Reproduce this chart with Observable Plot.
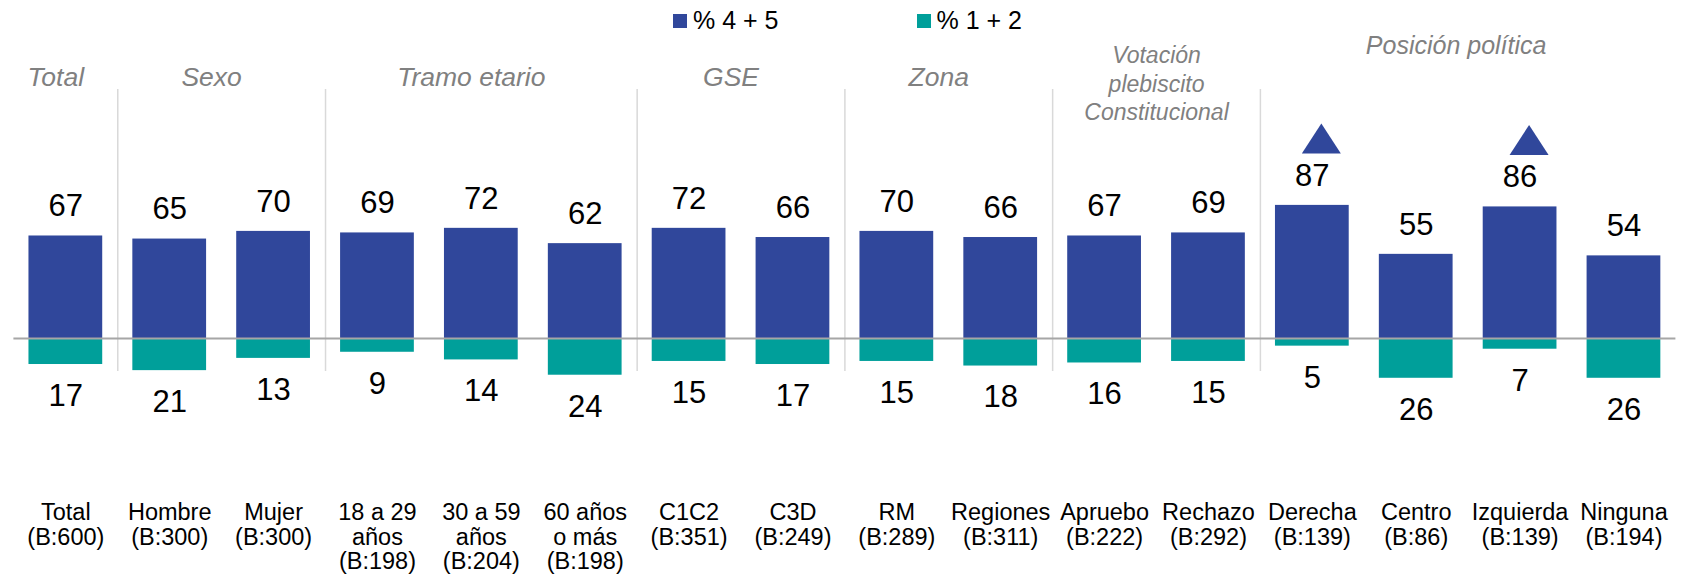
<!DOCTYPE html>
<html>
<head>
<meta charset="utf-8">
<script src="https://cdn.jsdelivr.net/npm/d3@7"></script>
<script src="https://cdn.jsdelivr.net/npm/@observablehq/plot@0.6"></script>
<style>
  html, body { margin: 0; padding: 0; background: #fff; }
  #wrap { position: relative; width: 1682px; height: 578px; font-family: "Liberation Sans", Arial, sans-serif; }
  #legend { position: absolute; top: 8px; left: 0; width: 1682px; display: flex; justify-content: center; align-items: center; gap: 138px; padding-left: 13px; box-sizing: border-box; font-size: 25px; line-height: 25px; color: #000; }
  #legend .item { display: flex; align-items: center; gap: 6px; }
  #legend .sw { width: 14px; height: 14px; display: inline-block; }
</style>
</head>
<body>
<div id="wrap">
  <div id="chart"></div>
  <div id="legend"></div>
</div>
<script>
// ---- Data ----
const categories = ["Total", "Hombre", "Mujer", "18 a 29\naños", "30 a 59\naños", "60 años\no más",
  "C1C2", "C3D", "RM", "Regiones", "Apruebo", "Rechazo", "Derecha", "Centro", "Izquierda", "Ninguna"];
const bases = [600, 300, 300, 198, 204, 198, 351, 249, 289, 311, 222, 292, 139, 86, 139, 194];
const groupLabels = ["Total", "Sexo", "Tramo etario", "GSE", "Zona", "Votación\nplebiscito\nConstitucional", "Posición política"];
const groupOf = [0, 1, 1, 2, 2, 2, 3, 3, 4, 4, 5, 5, 6, 6, 6, 6];
const seriesNames = ["% 4 + 5", "% 1 + 2"];
const top2 = [67, 65, 70, 69, 72, 62, 72, 66, 70, 66, 67, 69, 87, 55, 86, 54];     // % 4 + 5
const bottom2 = [17, 21, 13, 9, 14, 24, 15, 17, 15, 18, 16, 15, 5, 26, 7, 26];     // % 1 + 2
const significantUp = ["Derecha", "Izquierda"];

// ---- Styles ----
const blue = "#30479B";
const teal = "#009F9A";
const grayText = "#808080";
const font = "Liberation Sans, Arial, sans-serif";

const data = categories.map((c, i) => ({
  i, cat: c,
  label: `${c}\n(B:${bases[i]})`,
  pos: top2[i], neg: -bottom2[i], negLabel: bottom2[i]
}));
const groups = groupLabels.map((name, g) => {
  const idx = data.filter(d => groupOf[d.i] === g).map(d => d.i);
  return {name, start: d3.min(idx), center: d3.mean(idx), lines: name.split("\n").length};
});
const flagged = data.filter(d => significantUp.includes(d.cat));
const single = groups.filter(g => g.lines === 1 && g.name !== "Posición política");
const multi = groups.filter(g => g.lines > 1);
const wide = groups.filter(g => g.name === "Posición política");

const half = 0.355;
const W = 1682, H = 578;

const wideTriangle = {
  draw(ctx, size) {
    const r = Math.sqrt(size / Math.PI);
    const w = r * 1.3;
    ctx.moveTo(0, -r); ctx.lineTo(w, r); ctx.lineTo(-w, r); ctx.closePath();
  }
};

const chart = Plot.plot({
  width: W, height: H,
  marginLeft: 13.4, marginRight: 6.6, marginTop: 0, marginBottom: 0,
  style: {fontFamily: font, background: "transparent", overflow: "visible"},
  x: {domain: [-0.5, categories.length - 0.5], axis: null},
  y: {domain: [-100, 100], range: [338 + 153, 338 - 153], axis: null},
  marks: [
    Plot.ruleX(groups.slice(1), {x: d => d.start - 0.5, stroke: "#D9D9D9", strokeWidth: 1.5, insetTop: 89, insetBottom: H - 371}),
    Plot.rect(data, {x1: d => d.i - half, x2: d => d.i + half, y1: 0, y2: "pos", fill: blue}),
    Plot.rect(data, {x1: d => d.i - half, x2: d => d.i + half, y1: 0, y2: "neg", fill: teal}),
    Plot.ruleY([0], {stroke: "#A6A6A6", strokeWidth: 2}),
    Plot.text(data, {x: "i", y: "pos", text: d => String(d.pos), dy: -29.5, fontSize: 31, fill: "#000", lineAnchor: "middle"}),
    Plot.text(data, {x: "i", y: "neg", text: d => String(d.negLabel), dy: 31.5, fontSize: 31, fill: "#000", lineAnchor: "middle"}),
    Plot.dot(flagged, {x: "i", y: "pos", dx: 9, dy: -67, r: 15, symbol: wideTriangle, fill: blue, stroke: "none"}),
    Plot.text(data, {x: "i", text: "label", frameAnchor: "top", dy: 502, lineAnchor: "top", lineHeight: 1.05, fontSize: 23.5, fill: "#000"}),
    Plot.text(single, {x: "center", text: "name", frameAnchor: "top", dy: 77, dx: -10, lineAnchor: "middle", fontSize: 26.5, fontStyle: "italic", fill: grayText}),
    Plot.text(multi, {x: "center", text: "name", frameAnchor: "top", dy: 82, lineAnchor: "middle", lineHeight: 1.23, fontSize: 23, fontStyle: "italic", fill: grayText}),
    Plot.text(wide, {x: "center", text: "name", frameAnchor: "top", dy: 45, dx: -12, lineAnchor: "middle", fontSize: 25, fontStyle: "italic", fill: grayText})
  ]
});
document.getElementById("chart").appendChild(chart);

// ---- Legend ----
const legend = document.getElementById("legend");
[[seriesNames[0], blue], [seriesNames[1], teal]].forEach(([name, color]) => {
  const item = document.createElement("div");
  item.className = "item";
  const sw = document.createElement("span");
  sw.className = "sw";
  sw.style.background = color;
  const t = document.createElement("span");
  t.textContent = name;
  item.appendChild(sw); item.appendChild(t);
  legend.appendChild(item);
});
</script>
</body>
</html>
